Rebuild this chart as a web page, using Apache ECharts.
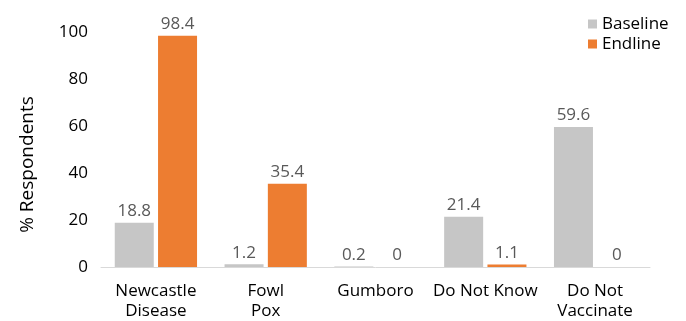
<!DOCTYPE html>
<html><head><meta charset="utf-8">
<script src="https://cdn.jsdelivr.net/npm/echarts@6/dist/echarts.min.js"></script>
<style>html,body{margin:0;padding:0;background:#fff}#c{width:686px;height:321px}</style>
</head><body><div id="c"></div>
<script>
const categories = ["Newcastle\nDisease", "Fowl\nPox", "Gumboro", "Do Not Know", "Do Not\nVaccinate"];
const baseline = [18.8, 1.2, 0.2, 21.4, 59.6];
const endline = [98.4, 35.4, 0, 1.1, 0];
const yTicks = [0, 20, 40, 60, 80, 100];
const FONT = "Open Sans";
const chart = echarts.init(document.getElementById('c'), null, {renderer: 'canvas'});
const lbl = {show: true, position: 'top', color: '#595959', fontSize: 17, fontFamily: FONT, distance: 3};
chart.setOption({
  animation: false,
  textStyle: {fontFamily: FONT},
  grid: {left: 101, right: 36, top: 32, bottom: 54, containLabel: false},
  legend: {
    orient: 'vertical', left: 583, top: 10, itemWidth: 9, itemHeight: 9, itemGap: 2,
    textStyle: {fontSize: 17, color: '#000', fontFamily: FONT, lineHeight: 18},
    data: ['Baseline', 'Endline'], icon: 'rect'
  },
  xAxis: {
    type: 'category', data: categories,
    axisLine: {lineStyle: {color: '#d9d9d9', width: 1}},
    axisTick: {show: false},
    axisLabel: {color: '#000', fontSize: 17, fontFamily: FONT, margin: 14, lineHeight: 20, interval: 0}
  },
  yAxis: {
    type: 'value', min: yTicks[0], max: yTicks[yTicks.length-1], interval: 20,
    name: '% Respondents', nameLocation: 'middle', nameGap: 64,
    nameTextStyle: {fontSize: 19, color: '#000', fontFamily: FONT, padding: [0, 30, 0, 0]},
    axisLine: {show: false}, axisTick: {show: false}, splitLine: {show: false},
    axisLabel: {color: '#000', fontSize: 17, fontFamily: FONT, margin: 13}
  },
  series: [
    {name: 'Baseline', type: 'bar', data: baseline, barWidth: 39, barGap: '11%',
     itemStyle: {color: '#C6C6C6'}, label: lbl},
    {name: 'Endline', type: 'bar', data: endline, barWidth: 39,
     itemStyle: {color: '#ED7D31'}, label: lbl}
  ]
});
</script></body></html>
